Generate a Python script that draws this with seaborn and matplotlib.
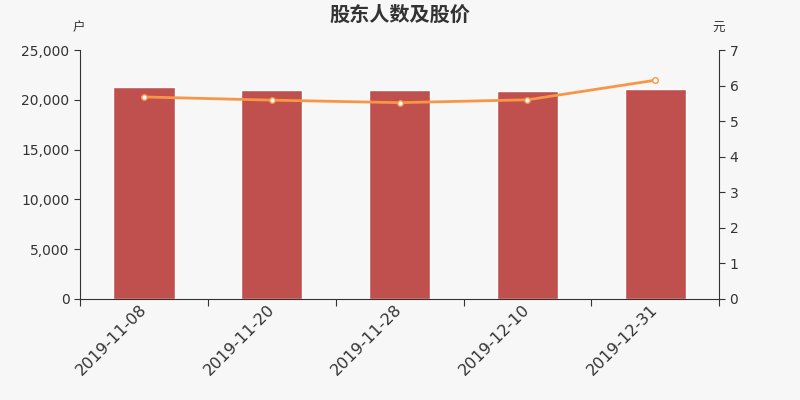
import matplotlib.pyplot as plt
import matplotlib.transforms as mtransforms
import numpy as np
import pandas as pd
import seaborn as sns

dates = ["2019-11-08", "2019-11-20", "2019-11-28", "2019-12-10", "2019-12-31"]
holders = [21250, 20980, 20950, 20920, 21110]   # 户
price = [5.68, 5.59, 5.52, 5.60, 6.15]            # 元

sns.set_style("ticks")
plt.rcParams["font.family"] = ["Noto Sans CJK SC", "DejaVu Sans"]

bg = "#f7f7f7"
fig = plt.figure(figsize=(8, 4), dpi=100, facecolor=bg)
ax = fig.add_axes([0.1, 0.2525, 0.799, 0.6225])
ax.set_facecolor(bg)

df = pd.DataFrame({"date": dates, "holders": holders, "price": price})
sns.barplot(data=df, x="date", y="holders", color="#c0504d", saturation=1,
            width=0.48, ax=ax)
ax.set_xlim(-0.5, len(dates) - 0.5)
ax.set_ylim(0, 25000)
ax.set_yticks(np.arange(0, 25001, 5000))
ax.yaxis.set_major_formatter(plt.FuncFormatter(lambda v, p: f"{int(v):,}"))
ax.set_xlabel("")
ax.set_ylabel("")
ax.set_xticks(np.arange(-0.5, len(dates), 1.0), minor=False)
ax.set_xticklabels([""] * (len(dates) + 1))
ax.set_xticks(np.arange(len(dates)), minor=True)
ax.set_xticklabels(dates, minor=True, rotation=45, ha="right", rotation_mode="anchor",
                   fontsize=11.5, color="#333333", family="DejaVu Sans")
ax.tick_params(axis="x", which="minor", length=0, pad=5)
ax.tick_params(axis="x", which="major", length=5, color="#333333")
ax.tick_params(axis="y", labelsize=10, colors="#333333", length=4)
for lab in ax.get_yticklabels():
    lab.set_family("DejaVu Sans")

# nudge the rotated date labels a little up and left
shift = mtransforms.ScaledTranslation(-5 / 100, 4 / 100, fig.dpi_scale_trans)
for lab in ax.get_xticklabels(minor=True):
    lab.set_transform(lab.get_transform() + shift)

ax2 = ax.twinx()
sns.lineplot(x=np.arange(len(dates)), y=price, ax=ax2, color="#f79646", linewidth=2,
             marker="o", markersize=4, markerfacecolor="white",
             markeredgecolor="#f79646", markeredgewidth=1)
ax2.set_ylim(0, 7)
ax2.set_yticks(range(0, 8))
ax2.tick_params(axis="y", labelsize=10, colors="#333333", length=4)
for lab in ax2.get_yticklabels():
    lab.set_family("DejaVu Sans")

for a in (ax, ax2):
    a.spines["top"].set_visible(False)
    for s in ("left", "right", "bottom"):
        a.spines[s].set_color("#333333")
ax.spines["right"].set_visible(False)
ax2.spines["left"].set_visible(False)
ax2.spines["bottom"].set_visible(False)

fig.text(0.5, 0.965, "股东人数及股价", ha="center", va="center", fontsize=14.5,
         fontweight="bold", color="#333333")
fig.text(0.098, 0.93, "户", ha="center", va="center", fontsize=9, color="#333333")
fig.text(0.898, 0.93, "元", ha="center", va="center", fontsize=9, color="#333333")

fig.savefig("out.png", dpi=100, facecolor=bg)
